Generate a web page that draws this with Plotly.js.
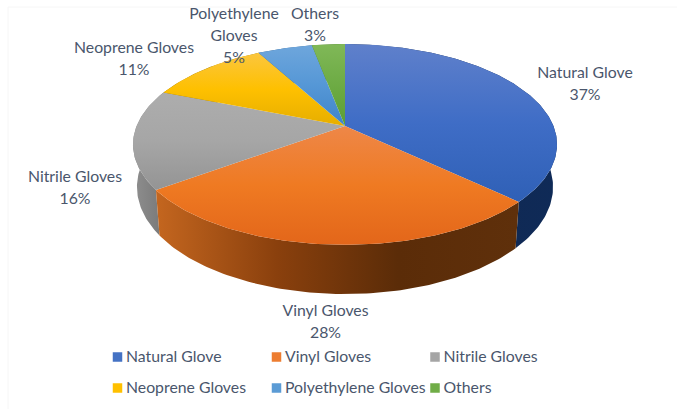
<!DOCTYPE html>
<html><head><meta charset="utf-8">
<script src="https://cdn.plot.ly/plotly-3.0.1.min.js"></script>
<style>html,body{margin:0;padding:0;background:#fff}</style></head>
<body><div id="chart" style="width:677px;height:409px"></div>
<script>
// ---- data ----
const categories = ["Natural Glove","Vinyl Gloves","Nitrile Gloves","Neoprene Gloves","Polyethylene Gloves","Others"];
const shares = [37,28,16,11,5,3];
const swatchColors = ["#4472C4","#ED7D31","#A5A5A5","#FFC000","#5B9BD5","#70AD47"];
const labelLines = [["Natural Glove"],["Vinyl Gloves"],["Nitrile Gloves"],["Neoprene Gloves"],["Polyethylene","Gloves"],["Others"]];
// top-face colour stops (far edge -> near edge)
const topShades = [
  ["#5F80CB","#3F6DC6","#2F60B6"],
  ["#EE8748","#EF7A22","#E3661A"],
  ["#ADADAD","#A6A6A6","#949494"],
  ["#FBC63F","#FEC000","#E6AE00"],
  ["#6EA6DC","#5597D6","#3F84C8"],
  ["#80B858","#6DAB44","#5C9E33"]
];
// side-wall colour stops (left -> right)
const wallShades = [
  ["#12294F","#0F2A57"],
  ["#C4661F","#8A400D","#5B2C08","#5F300B"],
  ["#8F8F8F","#757575"],
  ["#9A7500","#9A7500"],
  ["#2F5F8F","#2F5F8F"],
  ["#4A7A2C","#4A7A2C"]
];
// ---- layout constants (pixel-like plot coordinates) ----
const cx = 345, tilt = 0.184;
const top3d = {y0:126, A:208.4, B:97};
const bot3d = {y0:167.3, A:204.5, B:103.4};
const labelPos = [[585,74.5],[325.5,312.5],[75,178.5],[134,49.5],[234,15.5],[315,15.5]];
const lineGap = 21.7;
const legendCols = [117.5,276.5,435], legendRows = [357,388], legendTextX = 8.5, legendTextY = 1;

const total = shares.reduce((a,b)=>a+b,0);
function pt(g,deg){const t=deg*Math.PI/180,w=1/(1+tilt*Math.cos(t));
  return [cx+g.A*Math.sin(t)*w, g.y0-g.B*Math.cos(t)*w];}
function arc(g,a,b){const o=[],n=Math.max(2,Math.ceil(Math.abs(b-a)));
  for(let i=0;i<=n;i++)o.push(pt(g,a+(b-a)*i/n));return o;}
function scale(c){return c.map((v,i)=>[i/(c.length-1),v]);}
let cum=0; const spans=shares.map(v=>{const a=cum/total*360;cum+=v;return [a,cum/total*360];});

const traces=[];
// walls, back to front
[5,4,3,0,2,1].forEach(i=>{
  const [a,b]=spans[i];
  const pts=arc(top3d,a,b).concat(arc(bot3d,b,a));
  const xs=pts.map(p=>p[0]);
  traces.push({type:"scatter",mode:"lines",x:xs.concat(xs[0]),y:pts.map(p=>p[1]).concat(pts[0][1]),
    fill:"toself",line:{width:0},hoverinfo:"skip",showlegend:false,name:categories[i]+" side",
    fillcolor:wallShades[i][0],
    fillgradient:{type:"horizontal",start:Math.min(...xs),stop:Math.max(...xs),colorscale:scale(wallShades[i])}});
});
// top faces
shares.forEach((v,i)=>{
  const [a,b]=spans[i];
  const pts=[[cx,top3d.y0]].concat(arc(top3d,a,b));
  pts.push(pts[0]);
  const ys=pts.map(p=>p[1]);
  traces.push({type:"scatter",mode:"lines",x:pts.map(p=>p[0]),y:ys,fill:"toself",line:{width:0},
    name:categories[i],text:v+"%",hoverinfo:"name+text",showlegend:false,
    fillcolor:topShades[i][1],
    fillgradient:{type:"vertical",start:Math.min(...ys),stop:Math.max(...ys),colorscale:scale(topShades[i])}});
});
// data labels
const lx=[],ly=[],lt=[];
categories.forEach((c,i)=>{
  labelLines[i].concat(shares[i]+"%").forEach((s,j)=>{lx.push(labelPos[i][0]);ly.push(labelPos[i][1]+j*lineGap);lt.push(s);});
});
const textFont={family:"Lato, Carlito, sans-serif",size:15.8,color:"#4A566C"};
traces.push({type:"scatter",mode:"text",x:lx,y:ly,text:lt,textposition:"middle center",textfont:textFont,hoverinfo:"skip",showlegend:false});
// legend rows
const legX=categories.map((c,i)=>legendCols[i%3]), legY=categories.map((c,i)=>legendRows[Math.floor(i/3)]);
traces.push({type:"scatter",mode:"markers",x:legX,y:legY,
  marker:{symbol:"square",size:9.5,color:swatchColors},hoverinfo:"skip",showlegend:false});
traces.push({type:"scatter",mode:"text",x:legX.map(v=>v+legendTextX),y:legY.map(v=>v+legendTextY),
  text:categories,textposition:"middle right",textfont:textFont,hoverinfo:"skip",showlegend:false});

const layout={width:677,height:409,margin:{l:0,r:0,t:0,b:0},paper_bgcolor:"#fff",plot_bgcolor:"#fff",
  xaxis:{range:[0,677],visible:false,fixedrange:true},
  yaxis:{range:[409,0],visible:false,fixedrange:true},
  showlegend:false,
  shapes:[{type:"rect",layer:"below",x0:8,x1:700,y0:7,y1:430,line:{color:"#F6F6F6",width:1}}]};
Plotly.newPlot("chart",traces,layout,{displayModeBar:false,responsive:false});
</script></body></html>
